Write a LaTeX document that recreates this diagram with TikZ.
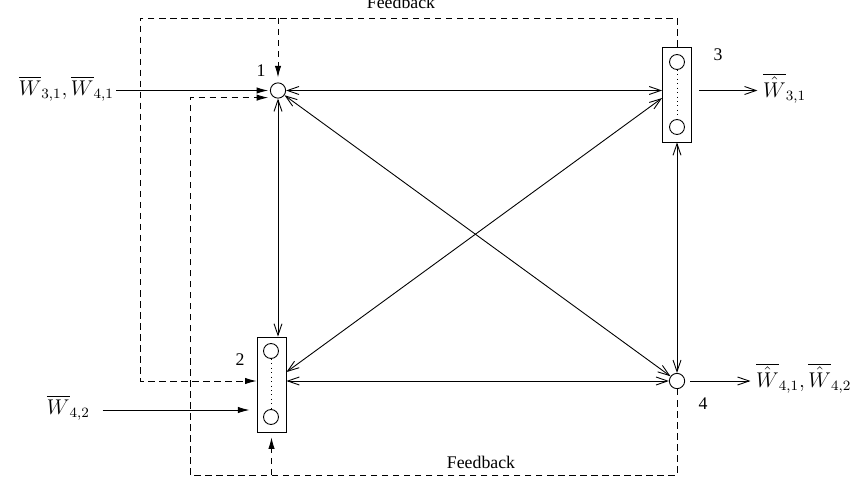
\documentclass[tikz,border=0pt]{standalone}
\usepackage[no-math]{fontspec}
\setmainfont{Liberation Serif}
\usepackage{amsmath,amssymb}
\usetikzlibrary{arrows.meta}

\begin{document}
\begin{tikzpicture}[x=0.5625pt,y=-0.5625pt,line width=0.5pt,
  relay/.style={draw,circle,minimum size=8.6pt,inner sep=0pt},
  slot/.style={draw,circle,minimum size=8.4pt,inner sep=0pt},
  buffer/.style={draw,rectangle,minimum width=16.3pt,minimum height=53.4pt,inner sep=0pt},
  link/.style={<->,>={Straight Barb[length=6.5pt,width=4.5pt]}},
  outarrow/.style={->,>={Straight Barb[length=6.5pt,width=4.5pt]}},
  inarrow/.style={->,>={Latex[length=6.5pt,width=3.6pt]}},
  fb/.style={dash pattern=on 3.6pt off 2.6pt}]
  \useasboundingbox (0,0) rectangle (864,482);

  % relays and buffers
  \node[relay] (n1) at (278,90.5) {};
  \node[relay] (n4) at (677,381) {};
  \node[buffer] (b3) at (677,94.5) {};
  \node[slot] (b3a) at (677,62) {};
  \node[slot] (b3b) at (677,127) {};
  \node[buffer] (b2) at (271.5,384.5) {};
  \node[slot] (b2a) at (271,351) {};
  \node[slot] (b2b) at (271,417) {};
  \draw[dotted] (b3a) -- (b3b);
  \draw[dotted] (b2a) -- (b2b);

  \node (l1) at (261,71) {1};
  \node (l2) at (240,360) {2};
  \node (l3) at (718,55) {3};
  \node (l4) at (703,404) {4};

  % links
  \draw[link] (n1) -- (n1 -| b3.west);
  \draw[link] (n1) -- (n1 |- b2.north);
  \draw[link] (n1) -- (n4);
  \draw[link] ([yshift=7pt]b2.east) -- ([yshift=-2pt]b3.west);
  \draw[link] (b2.east |- n4) -- (n4);
  \draw[link] (b3) -- (n4);

  % sources and sinks
  \node[anchor=east,inner sep=1pt] (w1) at (116,89) {\large$\overline{W}_{3,1},\overline{W}_{4,1}$};
  \node[anchor=east,inner sep=1pt] (w2) at (92,408) {\large$\overline{W}_{4,2}$};
  \draw[inarrow,shorten >=1pt] (w1.east |- n1) -- (n1);
  \draw[inarrow,shorten <=6pt,shorten >=4pt] (w2.east |- 0,410) -- (b2.west |- 0,410);

  \node[anchor=west,inner sep=1pt] (o3) at (761,88) {\large$\overline{\hat{W}}_{3,1}$};
  \node[anchor=west,inner sep=1pt] (o4) at (754,378) {\large$\overline{\hat{W}}_{4,1},\overline{\hat{W}}_{4,2}$};
  \draw[outarrow,shorten <=4pt] (b3.east |- n1) -- ([xshift=-2pt]o3.west |- n1);
  \draw[outarrow,shorten <=3pt] (n4) -- ([xshift=-2pt]o4.west |- n4);

  % feedback
  \coordinate (fbtop) at (140,18);
  \coordinate (fbbot) at (190,475);
  \draw[fb,inarrow] (b3.north) |- (fbtop) |- (b2.west |- n4);
  \draw[fb,inarrow,shorten >=2.8pt] (n1 |- fbtop) -- (n1);
  \draw[fb,inarrow,shorten >=1pt] (n4.south) |- (fbbot) |- ([yshift=-4pt]n1.west);
  \draw[fb,inarrow,shorten >=2.8pt] (b2.south |- fbbot) -- (b2.south);
  \node[anchor=base] (fb1) at (401,9) {Feedback};
  \node[anchor=base] (fb2) at (481,468) {Feedback};
\end{tikzpicture}
\end{document}
